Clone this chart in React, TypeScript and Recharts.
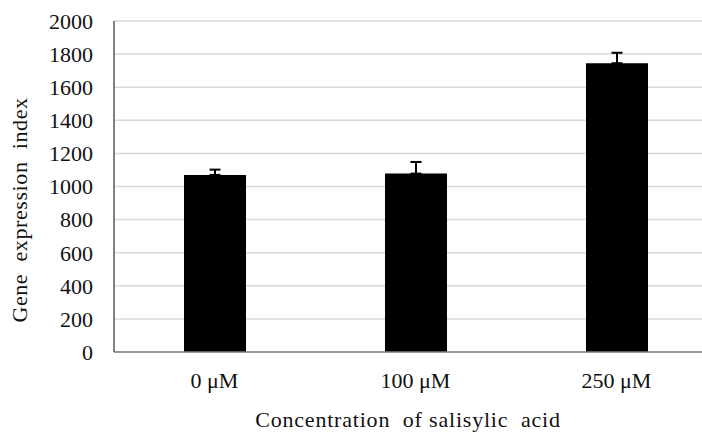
import { BarChart, Bar, XAxis, YAxis, CartesianGrid, ErrorBar, Label } from 'recharts'

const concentrations = ['0 μM', '100 μM', '250 μM']
const expression = [1070, 1078, 1745]
const errUp = [32, 70, 63]
const yTicks = [0, 200, 400, 600, 800, 1000, 1200, 1400, 1600, 1800, 2000]

const data = concentrations.map((c, i) => ({ c, v: expression[i], e: [0, errUp[i]] }))

const font = 'Liberation Serif'
const ink = '#111'

export default function App() {
  return (
    <div style={{ position: 'absolute', left: 0, top: 0, width: 702, height: 432, overflow: 'hidden', background: '#fff', fontFamily: font }}>
      <BarChart width={720} height={432} data={data} margin={{ top: 21, right: 3, left: 0, bottom: 20 }}>
        <CartesianGrid vertical={false} stroke="#d9d9d9" strokeWidth={1.5} />
        <XAxis
          dataKey="c"
          height={60}
          tickLine={false}
          axisLine={{ stroke: '#7f7f7f', strokeWidth: 1.5 }}
          tick={{ fontSize: 22, fontFamily: font, fill: ink, style: { fontFamily: font } }}
          tickMargin={14}
        >
          <Label
            content={() => (
              <text x={408} y={427} textAnchor="middle" fontSize={22} fill={ink} style={{ whiteSpace: 'pre', fontFamily: font, letterSpacing: 0.8 }}>
                Concentration  of salisylic  acid
              </text>
            )}
          />
        </XAxis>
        <YAxis
          width={114}
          domain={[0, 2000]}
          ticks={yTicks}
          interval={0}
          tickLine={false}
          tickSize={0}
          tickMargin={21}
          axisLine={{ stroke: '#595959', strokeWidth: 1.5 }}
          tick={{ fontSize: 22, fontFamily: font, fill: ink, style: { fontFamily: font } }}
        >
          <Label
            content={() => (
              <text x={27} y={210} transform="rotate(-90 27 210)" textAnchor="middle" fontSize={22} fill={ink} style={{ whiteSpace: 'pre', fontFamily: font, letterSpacing: 0.6 }}>
                Gene  expression  index
              </text>
            )}
          />
        </YAxis>
        <Bar dataKey="v" fill="#000" barSize={62} isAnimationActive={false}>
          <ErrorBar dataKey="e" width={5.5} stroke="#000" strokeWidth={2} direction="y" />
        </Bar>
      </BarChart>
    </div>
  )
}
